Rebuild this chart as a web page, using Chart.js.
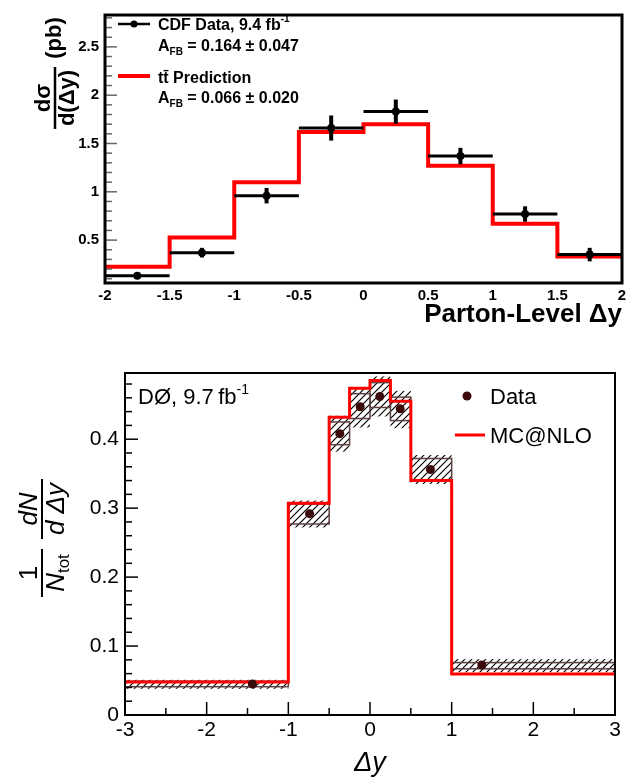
<!DOCTYPE html>
<html>
<head>
<meta charset="utf-8">
<script src="https://cdn.jsdelivr.net/npm/chart.js@4.4.1/dist/chart.umd.min.js"></script>
<style>
html, body { margin: 0; padding: 0; background: #fff; }
canvas { position: absolute; left: 0; }
#cdf { top: 0; }
#d0 { top: 340px; }
</style>
</head>
<body>
<canvas id="cdf" width="631" height="340"></canvas>
<canvas id="d0" width="631" height="439"></canvas>
<script>
'use strict';

// CDF panel: parton-level dsigma/d(dy), bins of 0.5
const cdfEdges = [-2, -1.5, -1, -0.5, 0, 0.5, 1, 1.5, 2];
const cdfData = [0.13, 0.37, 0.96, 1.66, 1.83, 1.37, 0.77, 0.35];
const cdfErr = [0.025, 0.05, 0.08, 0.13, 0.125, 0.085, 0.08, 0.07];
const cdfPred = [0.224, 0.528, 1.10, 1.62, 1.70, 1.27, 0.67, 0.33];
const cdfXTicks = [-2, -1.5, -1, -0.5, 0, 0.5, 1, 1.5, 2];
const cdfYTicks = [0.5, 1, 1.5, 2, 2.5];

// D0 panel: normalised dN/d(dy)
const d0Edges = [-3, -1, -0.5, -0.25, 0, 0.25, 0.5, 1, 3];
const d0X = [-1.44, -0.74, -0.37, -0.12, 0.12, 0.37, 0.74, 1.37];
const d0Data = [0.045, 0.292, 0.408, 0.447, 0.462, 0.444, 0.356, 0.0725];
const d0InnerLo = [0.041, 0.277, 0.392, 0.430, 0.446, 0.427, 0.340, 0.067];
const d0InnerHi = [0.049, 0.306, 0.425, 0.466, 0.482, 0.461, 0.372, 0.076];
const d0OuterLo = [0.038, 0.272, 0.382, 0.417, 0.433, 0.416, 0.335, 0.062];
const d0OuterHi = [0.051, 0.311, 0.434, 0.475, 0.491, 0.470, 0.377, 0.081];
const d0Mc = [0.048, 0.307, 0.432, 0.474, 0.485, 0.455, 0.340, 0.0595];
const d0XTicks = [-3, -2, -1, 0, 1, 2, 3];
const d0YTicks = [0, 0.1, 0.2, 0.3, 0.4];

const SANS = "'Liberation Sans', Arial, sans-serif";

function stepPoints(edges, vals) {
    const pts = vals.map((v, i) => ({ x: edges[i], y: v }));
    pts.push({ x: edges[edges.length - 1], y: vals[vals.length - 1] });
    return pts;
}

// draw a run of text pieces (for sub/superscripts) starting at x
function rich(ctx, parts, x, y, align) {
    let w = 0;
    parts.forEach(p => { ctx.font = p.font; w += ctx.measureText(p.text).width; });
    let cx = align === 'center' ? x - w / 2 : (align === 'right' ? x - w : x);
    ctx.textAlign = 'left';
    ctx.textBaseline = 'alphabetic';
    parts.forEach(p => {
        ctx.font = p.font;
        ctx.fillText(p.text, cx, y + (p.dy || 0));
        cx += ctx.measureText(p.text).width;
    });
}

function line(ctx, x1, y1, x2, y2) {
    ctx.beginPath();
    ctx.moveTo(x1, y1);
    ctx.lineTo(x2, y2);
    ctx.stroke();
}

function setTicks(vals) {
    return scale => { scale.ticks = vals.map(v => ({ value: v })); };
}

const cdfDecor = {
    id: 'cdfDecor',
    afterDatasetsDraw(chart) {
        const { ctx, chartArea: a, scales: { x, y } } = chart;
        ctx.save();
        // inward y ticks
        ctx.strokeStyle = '#666';
        ctx.lineWidth = 1.5;
        for (let k = 1; k <= 28; k++) {
            const v = k / 10;
            const py = y.getPixelForValue(v);
            line(ctx, a.left, py, a.left + (k % 5 === 0 ? 12 : 7), py);
        }
        // data with error bars
        ctx.strokeStyle = '#000';
        ctx.fillStyle = '#000';
        cdfData.forEach((v, i) => {
            const cx = x.getPixelForValue((cdfEdges[i] + cdfEdges[i + 1]) / 2);
            const py = y.getPixelForValue(v);
            ctx.lineWidth = 3;
            line(ctx, x.getPixelForValue(cdfEdges[i]), py, x.getPixelForValue(cdfEdges[i + 1]), py);
            ctx.lineWidth = 4;
            line(ctx, cx, y.getPixelForValue(v - cdfErr[i]), cx, y.getPixelForValue(v + cdfErr[i]));
            ctx.beginPath();
            ctx.arc(cx, py, 4, 0, Math.PI * 2);
            ctx.fill();
        });
        ctx.lineWidth = 3;
        ctx.strokeRect(a.left, a.top, a.right - a.left, a.bottom - a.top);
        ctx.restore();
    },
    afterDraw(chart) {
        const ctx = chart.ctx;
        const B = s => 'bold ' + s + 'px ' + SANS;
        ctx.save();
        ctx.fillStyle = '#000';
        ctx.strokeStyle = '#000';
        // legend
        ctx.lineWidth = 2.5;
        line(ctx, 118, 24, 150, 24);
        ctx.beginPath();
        ctx.arc(134, 24, 3.5, 0, Math.PI * 2);
        ctx.fill();
        rich(ctx, [{ text: 'CDF Data, 9.4 fb', font: B(16) }, { text: '-1', font: B(10), dy: -8 }], 158, 30);
        rich(ctx, [{ text: 'A', font: B(16) }, { text: 'FB', font: B(10), dy: 4 }, { text: ' = 0.164 \u00b1 0.047', font: B(16) }], 158, 51);
        ctx.strokeStyle = '#ff0000';
        ctx.lineWidth = 4;
        line(ctx, 118, 76, 150, 76);
        rich(ctx, [{ text: 'tt\u0304 Prediction', font: B(16) }], 158, 83);
        rich(ctx, [{ text: 'A', font: B(16) }, { text: 'FB', font: B(10), dy: 4 }, { text: ' = 0.066 \u00b1 0.020', font: B(16) }], 158, 103);
        // x title
        ctx.font = B(26);
        ctx.textAlign = 'right';
        ctx.textBaseline = 'alphabetic';
        ctx.fillText('Parton-Level \u0394y', 622, 322);
        // y title: fraction + (pb)
        ctx.translate(55, 98);
        ctx.rotate(-Math.PI / 2);
        ctx.textAlign = 'center';
        ctx.font = B(22);
        ctx.fillText('d\u03c3', 0, -5);
        ctx.fillText('d(\u0394y)', 0, 19);
        ctx.strokeStyle = '#000';
        ctx.lineWidth = 2.5;
        line(ctx, -31, 0, 31, 0);
        ctx.textBaseline = 'middle';
        ctx.fillText('(pb)', 60, 0);
        ctx.restore();
    }
};

let hatchPattern = null;
function getHatch(ctx) {
    if (!hatchPattern) {
        const c = document.createElement('canvas');
        c.width = 7;
        c.height = 7;
        const g = c.getContext('2d');
        g.strokeStyle = '#000';
        g.lineWidth = 1.2;
        g.beginPath();
        g.moveTo(0, 7); g.lineTo(7, 0);
        g.moveTo(-2, 2); g.lineTo(2, -2);
        g.moveTo(5, 9); g.lineTo(9, 5);
        g.stroke();
        hatchPattern = ctx.createPattern(c, 'repeat');
    }
    return hatchPattern;
}

const d0Decor = {
    id: 'd0Decor',
    beforeDatasetsDraw(chart) {
        const { ctx, scales: { x, y } } = chart;
        ctx.save();
        ctx.fillStyle = getHatch(ctx);
        ctx.strokeStyle = '#5e4040';
        ctx.lineWidth = 1.5;
        d0OuterLo.forEach((lo, i) => {
            const x1 = x.getPixelForValue(d0Edges[i]);
            const x2 = x.getPixelForValue(d0Edges[i + 1]);
            const yo1 = y.getPixelForValue(d0OuterHi[i]);
            const yo2 = y.getPixelForValue(lo);
            ctx.fillRect(x1, yo1, x2 - x1, yo2 - yo1);
            const yi1 = y.getPixelForValue(d0InnerHi[i]);
            const yi2 = y.getPixelForValue(d0InnerLo[i]);
            ctx.strokeRect(x1, yi1, x2 - x1, yi2 - yi1);
        });
        ctx.restore();
    },
    afterDatasetsDraw(chart) {
        const { ctx, chartArea: a, scales: { x, y } } = chart;
        ctx.save();
        ctx.fillStyle = '#3b0a0a';
        d0Data.forEach((v, i) => {
            ctx.beginPath();
            ctx.arc(x.getPixelForValue(d0X[i]), y.getPixelForValue(v), 4.5, 0, Math.PI * 2);
            ctx.fill();
        });
        // inward ticks
        ctx.strokeStyle = '#000';
        ctx.lineWidth = 1.5;
        for (let k = 1; k <= 24; k++) {
            const py = y.getPixelForValue(k / 50);
            line(ctx, a.left, py, a.left + (k % 5 === 0 ? 13 : 7), py);
        }
        for (let k = -5; k <= 5; k++) {
            const px = x.getPixelForValue(k / 2);
            line(ctx, px, a.bottom, px, a.bottom - (k % 2 === 0 ? 13 : 7));
        }
        ctx.lineWidth = 2;
        ctx.strokeRect(a.left, a.top, a.right - a.left, a.bottom - a.top);
        ctx.restore();
    },
    afterDraw(chart) {
        const ctx = chart.ctx;
        const R = s => s + 'px ' + SANS;
        const I = s => 'italic ' + s + 'px ' + SANS;
        ctx.save();
        ctx.fillStyle = '#000';
        rich(ctx, [{ text: 'D\u00d8, 9.7\u2009fb', font: R(22) }, { text: '-1', font: R(14), dy: -10 }], 138, 64);
        ctx.fillStyle = '#3b0a0a';
        ctx.beginPath();
        ctx.arc(467, 56, 4.5, 0, Math.PI * 2);
        ctx.fill();
        ctx.fillStyle = '#000';
        rich(ctx, [{ text: 'Data', font: R(22) }], 490, 64);
        ctx.strokeStyle = '#ff0000';
        ctx.lineWidth = 3;
        line(ctx, 455, 95, 485, 95);
        rich(ctx, [{ text: 'MC@NLO', font: R(22) }], 490, 103);
        // x title
        rich(ctx, [{ text: '\u0394y', font: I(27) }], 370, 431, 'center');
        // y title: 1/N_tot  dN/dDy
        ctx.strokeStyle = '#000';
        ctx.lineWidth = 2;
        ctx.save();
        ctx.translate(42, 573 - 340);
        ctx.rotate(-Math.PI / 2);
        rich(ctx, [{ text: '1', font: R(26) }], 0, -5, 'center');
        rich(ctx, [{ text: 'N', font: I(26) }, { text: 'tot', font: R(17), dy: 5 }], 0, 22, 'center');
        line(ctx, -24, 0, 24, 0);
        ctx.restore();
        ctx.save();
        ctx.translate(42, 509 - 340);
        ctx.rotate(-Math.PI / 2);
        rich(ctx, [{ text: 'dN', font: I(26) }], 0, -5, 'center');
        rich(ctx, [{ text: 'd \u0394y', font: I(26) }], 0, 22, 'center');
        line(ctx, -30, 0, 30, 0);
        ctx.restore();
        ctx.restore();
    }
};

const baseOpts = {
    responsive: false,
    animation: false,
    devicePixelRatio: 1,
    plugins: { legend: { display: false }, tooltip: { enabled: false } }
};

new Chart(document.getElementById('cdf'), {
    type: 'line',
    data: {
        datasets: [{
            label: 'tt Prediction',
            data: stepPoints(cdfEdges, cdfPred),
            stepped: true,
            borderColor: '#ff0000',
            borderWidth: 4,
            pointRadius: 0,
            fill: false
        }]
    },
    options: Object.assign({}, baseOpts, {
        layout: { padding: { top: 14, right: 9, left: 0, bottom: 0 } },
        scales: {
            x: {
                type: 'linear', min: -2, max: 2,
                grid: { display: false, drawTicks: false }, border: { display: false },
                ticks: { color: '#000', font: { family: SANS, size: 15, weight: 'bold' }, padding: 4, maxRotation: 0, autoSkip: false, callback: v => String(v) },
                afterBuildTicks: setTicks(cdfXTicks),
                afterFit: s => { s.height = 57; }
            },
            y: {
                min: 0.056, max: 2.83,
                grid: { display: false, drawTicks: false }, border: { display: false },
                ticks: { color: '#000', font: { family: SANS, size: 15, weight: 'bold' }, padding: 6, autoSkip: false, callback: v => String(v) },
                afterBuildTicks: setTicks(cdfYTicks),
                afterFit: s => { s.width = 105; }
            }
        }
    }),
    plugins: [cdfDecor]
});

new Chart(document.getElementById('d0'), {
    type: 'line',
    data: {
        datasets: [{
            label: 'MC@NLO',
            data: stepPoints(d0Edges, d0Mc),
            stepped: true,
            borderColor: '#ff0000',
            borderWidth: 3,
            pointRadius: 0,
            fill: false
        }]
    },
    options: Object.assign({}, baseOpts, {
        layout: { padding: { top: 33, right: 16, left: 0, bottom: 0 } },
        scales: {
            x: {
                type: 'linear', min: -3, max: 3,
                grid: { display: false, drawTicks: false }, border: { display: false },
                ticks: { color: '#000', font: { family: SANS, size: 21 }, padding: 3, maxRotation: 0, autoSkip: false, callback: v => String(v) },
                afterBuildTicks: setTicks(d0XTicks),
                afterFit: s => { s.height = 64; }
            },
            y: {
                min: 0, max: 0.496,
                grid: { display: false, drawTicks: false }, border: { display: false },
                ticks: { color: '#000', font: { family: SANS, size: 21 }, padding: 6, autoSkip: false, callback: v => String(v) },
                afterBuildTicks: setTicks(d0YTicks),
                afterFit: s => { s.width = 125; }
            }
        }
    }),
    plugins: [d0Decor]
});
</script>
</body>
</html>
